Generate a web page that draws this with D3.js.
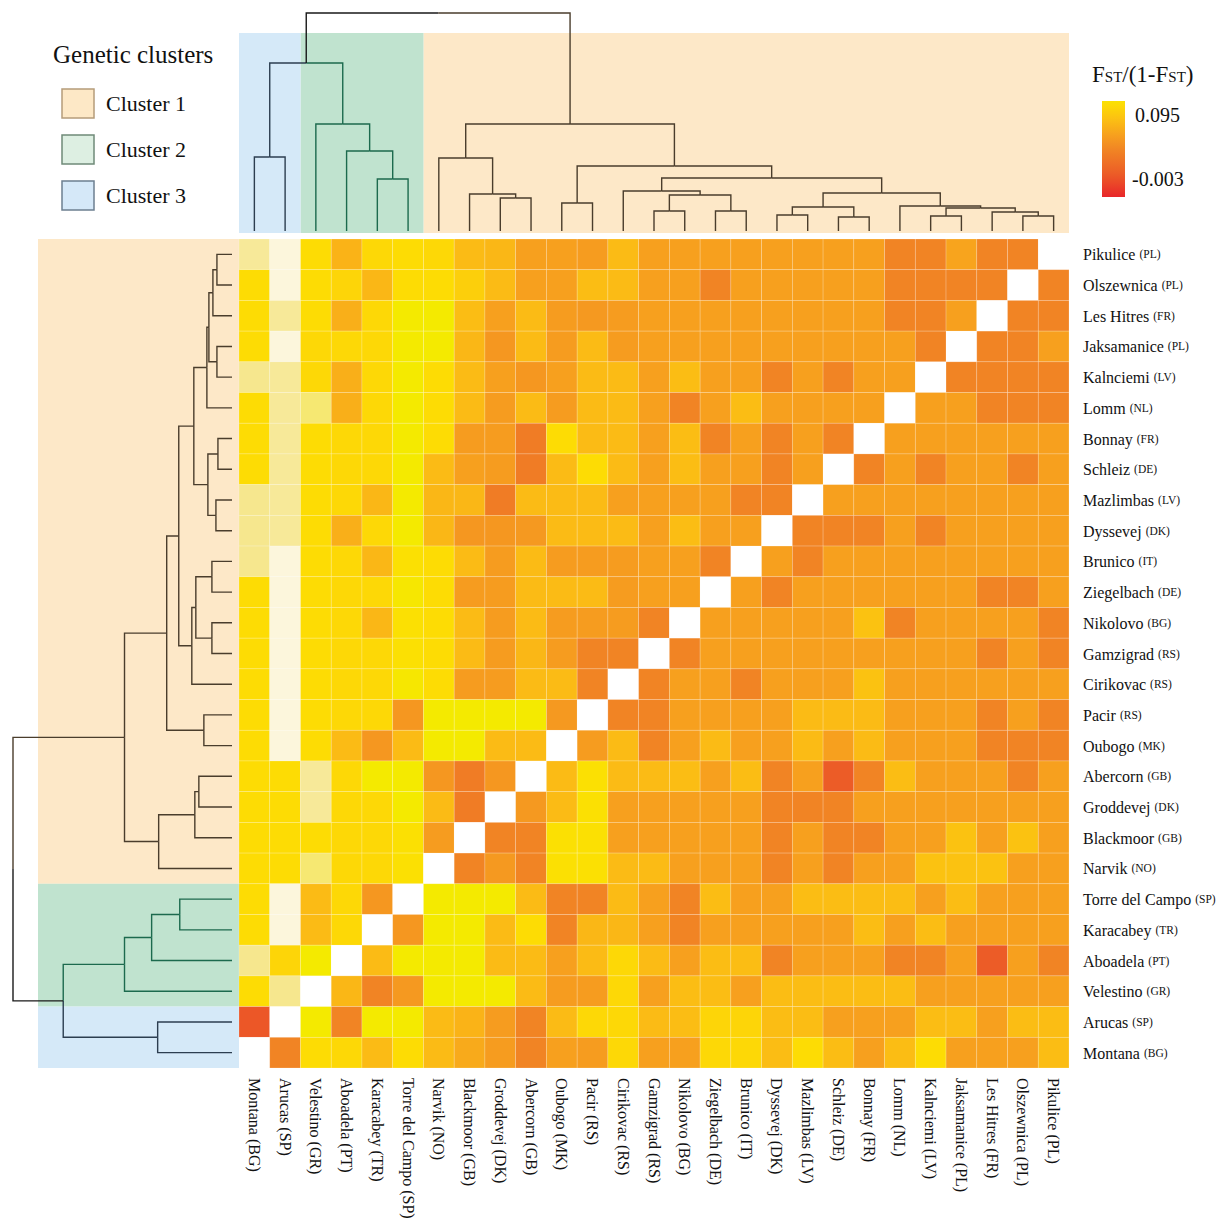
<!DOCTYPE html>
<html><head><meta charset="utf-8">
<script src="https://cdn.jsdelivr.net/npm/d3@7"></script>
<style>body{margin:0;background:#fff}text{font-family:"Liberation Serif","Times New Roman",serif;fill:#111}</style>
</head><body>
<svg id="chart" width="1231" height="1218"></svg>
<script>
// Column order (left -> right); rows are the reverse order (top -> bottom)
const populations = ["Montana","Arucas","Velestino","Aboadela","Karacabey","Torre del Campo","Narvik","Blackmoor","Groddevej","Abercorn","Oubogo","Pacir","Cirikovac","Gamzigrad","Nikolovo","Ziegelbach","Brunico","Dyssevej","Mazlimbas","Schleiz","Bonnay","Lomm","Kalnciemi","Jaksamanice","Les Hitres","Olszewnica","Pikulice"];
const countries = ["BG","SP","GR","PT","TR","SP","NO","GB","DK","GB","MK","RS","RS","RS","BG","DE","IT","DK","LV","DE","FR","NL","LV","PL","FR","PL","PL"];
const clusterOf = [3,3,2,2,2,2,1,1,1,1,1,1,1,1,1,1,1,1,1,1,1,1,1,1,1,1,1];
const clusterNames = ["Cluster 1","Cluster 2","Cluster 3"];
const colorbarTicks = [0.095, -0.003];

// FST/(1-FST) matrix, rows top->bottom (Pikulice ... Montana), columns left->right (Montana ... Pikulice)
const fst = [
 [0.13,0.16,0.092,0.07,0.09,0.092,0.09,0.074,0.072,0.06,0.06,0.058,0.074,0.06,0.06,0.06,0.06,0.06,0.06,0.06,0.06,0.045,0.045,0.062,0.045,0.045,null],
 [0.092,0.16,0.092,0.088,0.072,0.092,0.092,0.085,0.074,0.06,0.06,0.075,0.074,0.06,0.06,0.045,0.06,0.06,0.06,0.06,0.06,0.045,0.045,0.045,0.045,null,0.045],
 [0.092,0.13,0.092,0.068,0.09,0.1,0.1,0.075,0.06,0.074,0.058,0.056,0.058,0.06,0.06,0.06,0.06,0.06,0.06,0.06,0.06,0.045,0.045,0.06,null,0.045,0.045],
 [0.092,0.16,0.09,0.09,0.09,0.1,0.1,0.072,0.055,0.074,0.058,0.074,0.058,0.06,0.06,0.06,0.06,0.06,0.06,0.06,0.06,0.06,0.045,null,0.045,0.045,0.06],
 [0.125,0.13,0.09,0.068,0.09,0.1,0.092,0.074,0.06,0.055,0.06,0.074,0.074,0.06,0.075,0.06,0.06,0.045,0.06,0.045,0.06,0.06,null,0.045,0.045,0.045,0.045],
 [0.092,0.13,0.12,0.068,0.09,0.1,0.092,0.074,0.058,0.074,0.058,0.074,0.074,0.06,0.045,0.06,0.075,0.06,0.06,0.06,0.06,null,0.06,0.06,0.045,0.045,0.045],
 [0.092,0.13,0.092,0.09,0.09,0.1,0.092,0.058,0.058,0.04,0.092,0.074,0.074,0.06,0.075,0.045,0.06,0.045,0.06,0.045,null,0.06,0.06,0.06,0.06,0.06,0.06],
 [0.092,0.13,0.092,0.09,0.09,0.1,0.074,0.06,0.058,0.04,0.074,0.092,0.074,0.06,0.075,0.06,0.06,0.045,0.06,null,0.045,0.06,0.045,0.06,0.06,0.045,0.06],
 [0.125,0.13,0.092,0.09,0.072,0.1,0.072,0.072,0.04,0.074,0.074,0.074,0.06,0.06,0.06,0.06,0.045,0.045,null,0.06,0.06,0.06,0.06,0.06,0.06,0.06,0.06],
 [0.125,0.13,0.092,0.068,0.09,0.1,0.072,0.055,0.055,0.056,0.074,0.074,0.074,0.06,0.075,0.06,0.06,null,0.045,0.045,0.045,0.06,0.045,0.06,0.06,0.06,0.06],
 [0.125,0.16,0.092,0.09,0.072,0.094,0.092,0.074,0.058,0.074,0.058,0.058,0.058,0.06,0.06,0.045,null,0.06,0.045,0.06,0.06,0.06,0.06,0.06,0.06,0.06,0.06],
 [0.092,0.16,0.092,0.09,0.09,0.098,0.092,0.058,0.058,0.074,0.074,0.074,0.058,0.06,0.06,null,0.06,0.045,0.06,0.06,0.06,0.06,0.06,0.06,0.045,0.045,0.06],
 [0.092,0.16,0.092,0.09,0.072,0.094,0.092,0.074,0.058,0.074,0.058,0.058,0.058,0.045,null,0.06,0.06,0.06,0.06,0.06,0.078,0.045,0.06,0.06,0.06,0.06,0.045],
 [0.092,0.16,0.092,0.09,0.09,0.094,0.092,0.074,0.058,0.072,0.058,0.045,0.045,null,0.045,0.06,0.06,0.06,0.06,0.06,0.06,0.06,0.06,0.06,0.045,0.06,0.045],
 [0.092,0.16,0.092,0.09,0.09,0.098,0.092,0.058,0.058,0.074,0.074,0.045,null,0.045,0.06,0.06,0.045,0.06,0.06,0.06,0.078,0.06,0.06,0.06,0.06,0.06,0.06],
 [0.092,0.16,0.092,0.09,0.09,0.055,0.1,0.1,0.1,0.1,0.056,null,0.045,0.045,0.06,0.06,0.06,0.06,0.074,0.074,0.074,0.06,0.06,0.06,0.045,0.06,0.045],
 [0.092,0.16,0.092,0.074,0.055,0.074,0.1,0.1,0.074,0.074,null,0.058,0.074,0.045,0.06,0.074,0.06,0.06,0.074,0.06,0.074,0.06,0.06,0.06,0.045,0.045,0.045],
 [0.092,0.092,0.13,0.09,0.1,0.1,0.055,0.04,0.055,null,0.074,0.094,0.074,0.074,0.075,0.06,0.075,0.045,0.06,0.02,0.045,0.075,0.06,0.06,0.06,0.045,0.06],
 [0.092,0.092,0.13,0.09,0.09,0.1,0.074,0.04,null,0.056,0.074,0.094,0.06,0.06,0.06,0.06,0.06,0.045,0.045,0.045,0.06,0.06,0.06,0.06,0.06,0.06,0.06],
 [0.092,0.092,0.092,0.09,0.09,0.094,0.058,null,0.045,0.045,0.094,0.094,0.06,0.06,0.06,0.06,0.06,0.045,0.06,0.045,0.045,0.06,0.06,0.078,0.06,0.078,0.06],
 [0.092,0.092,0.12,0.09,0.09,0.094,null,0.045,0.056,0.045,0.094,0.094,0.074,0.074,0.06,0.06,0.06,0.045,0.06,0.045,0.06,0.06,0.078,0.078,0.078,0.06,0.06],
 [0.092,0.16,0.074,0.09,0.055,null,0.1,0.1,0.1,0.074,0.045,0.045,0.074,0.06,0.045,0.075,0.06,0.06,0.075,0.075,0.075,0.075,0.06,0.075,0.06,0.06,0.06],
 [0.092,0.16,0.074,0.09,null,0.055,0.1,0.1,0.074,0.092,0.045,0.072,0.072,0.06,0.045,0.06,0.06,0.06,0.06,0.06,0.075,0.06,0.075,0.06,0.06,0.06,0.06],
 [0.125,0.088,0.1,null,0.074,0.1,0.1,0.1,0.074,0.074,0.06,0.074,0.09,0.074,0.06,0.075,0.075,0.045,0.06,0.06,0.06,0.045,0.045,0.06,0.02,0.06,0.045],
 [0.092,0.125,null,0.072,0.045,0.056,0.1,0.1,0.1,0.074,0.058,0.058,0.09,0.06,0.075,0.075,0.06,0.075,0.075,0.075,0.075,0.075,0.06,0.06,0.06,0.06,0.06],
 [0.018,null,0.1,0.045,0.1,0.1,0.074,0.07,0.058,0.045,0.074,0.09,0.09,0.074,0.075,0.088,0.088,0.075,0.075,0.06,0.06,0.06,0.075,0.075,0.06,0.075,0.075],
 [null,0.045,0.092,0.09,0.074,0.092,0.074,0.065,0.058,0.045,0.06,0.058,0.09,0.06,0.06,0.09,0.09,0.075,0.092,0.075,0.06,0.075,0.092,0.06,0.06,0.06,0.075]
];

// Dendrogram linkage (leaf ids = column index, merged nodes get ids 27, 28, ...): [childA, childB, height]
const merges = [
 [0,1,74],[4,5,52],[3,28,80],[2,29,107],[27,30,168],
 [8,9,33],[7,32,37],[6,33,73],[10,11,28],[13,14,20],
 [15,16,20],[36,37,36],[12,38,40],[17,18,16],[19,20,14],
 [40,41,24],[25,26,15],[24,43,19],[22,23,15],[45,44,23],
 [21,46,25],[42,47,38],[39,48,53],[35,49,65],[34,50,107],[31,51,218]
];

const rowPopulations = populations.slice().reverse();
const rowCountries = countries.slice().reverse();

const svg = d3.select("#chart");
const x = d3.scaleBand().domain(populations).range([239,1069]);
const y = d3.scaleBand().domain(rowPopulations).range([239,1068]);
const color = d3.scaleLinear()
  .domain([-0.003,0.02,0.045,0.06,0.075,0.092,0.1,0.125,0.16])
  .range(["#e8262a","#ec5c27","#f18424","#f7a01e","#fbbd14","#fddc04","#f4ea00","#f6e78e","#fcf6dc"])
  .clamp(true);

const clusterFill = {1:"#fde8c8",2:"#c0e3cf",3:"#d5e9f8"};
const clusterSwatch = {1:"#fde8c6",2:"#ddefe2",3:"#d5e8f8"};
const clusterStroke = {1:"#b59c7a",2:"#6f8a78",3:"#6c7f90"};
const clusterLine = {0:"#1a1a1a",1:"#4a3d2c",2:"#1c6a4e",3:"#2c3e50"};

// cluster background bands
const clusters = [1,2,3].map(k=>{
  const members = populations.filter((p,i)=>clusterOf[i]===k);
  return {k, members};
});
const topBg = svg.append("g");
clusters.forEach(c=>{
  const xs = c.members.map(m=>x(m));
  topBg.append("rect").attr("x",d3.min(xs)).attr("y",33)
    .attr("width",d3.max(xs)+x.bandwidth()-d3.min(xs)).attr("height",200)
    .attr("fill",clusterFill[c.k]);
  const ys = c.members.map(m=>y(m));
  topBg.append("rect").attr("x",38).attr("y",d3.min(ys))
    .attr("width",202).attr("height",d3.max(ys)+y.bandwidth()-d3.min(ys))
    .attr("fill",clusterFill[c.k]);
});

// heatmap
const heat = svg.append("g");
fst.forEach((row,ri)=>{
  row.forEach((v,ci)=>{
    heat.append("rect")
      .attr("x",x(populations[ci])).attr("y",y(rowPopulations[ri]))
      .attr("width",x.bandwidth()).attr("height",y.bandwidth())
      .attr("fill",v===null?"#ffffff":color(v))
      .attr("stroke",v===null?"none":"rgba(255,255,255,0.28)").attr("stroke-width",0.7);
  });
});

// dendrograms
function buildNodes(leafPos){
  const pos = leafPos.slice(), h = populations.map(()=>0), cl = clusterOf.slice();
  merges.forEach((m,k)=>{
    const id = populations.length + k;
    pos[id] = (pos[m[0]]+pos[m[1]])/2; h[id] = m[2];
    cl[id] = cl[m[0]]===cl[m[1]] ? cl[m[0]] : 0;
  });
  return {pos,h,cl};
}
const hTop = d3.scaleLinear().domain([0,218]).range([231,13]);
const hLeft = d3.scaleLinear().domain([0,218]).range([232,13]);
const topNodes = buildNodes(populations.map(p=>x(p)+x.bandwidth()/2));
const leftNodes = buildNodes(populations.map(p=>y(p)+y.bandwidth()/2));
const dg = svg.append("g").attr("fill","none").attr("stroke-width",1.4);
merges.forEach((m,k)=>{
  const id = populations.length + k;
  [m[0],m[1]].forEach(c=>{
    const col = clusterLine[topNodes.cl[c]];
    dg.append("path").attr("stroke",col)
      .attr("d",`M${topNodes.pos[c]},${hTop(topNodes.h[c])}V${hTop(topNodes.h[id])}H${topNodes.pos[id]}`);
    dg.append("path").attr("stroke",col)
      .attr("d",`M${hLeft(leftNodes.h[c])},${leftNodes.pos[c]}H${hLeft(leftNodes.h[id])}V${leftNodes.pos[id]}`);
  });
});

// row labels
const rl = svg.append("g");
rowPopulations.forEach((p,i)=>{
  const t = rl.append("text").attr("x",1083).attr("y",y(p)+y.bandwidth()/2)
    .attr("dominant-baseline","central").attr("font-size",16);
  t.append("tspan").text(p+" ");
  t.append("tspan").attr("font-size",11.5).text("("+rowCountries[i]+")");
});
// column labels
const cl = svg.append("g");
populations.forEach((p,i)=>{
  cl.append("text").attr("transform",`translate(${x(p)+x.bandwidth()/2},1078) rotate(90)`)
    .attr("dominant-baseline","central").attr("font-size",16)
    .text(p+" ("+countries[i]+")");
});

// legend
const lg = svg.append("g");
lg.append("text").attr("x",53).attr("y",63).attr("font-size",25).text("Genetic clusters");
clusterNames.forEach((n,i)=>{
  const k=i+1, yy = 89 + i*46;
  lg.append("rect").attr("x",62).attr("y",yy).attr("width",32).attr("height",29)
    .attr("fill",clusterSwatch[k]).attr("stroke",clusterStroke[k]).attr("stroke-width",1.5);
  lg.append("text").attr("x",106).attr("y",yy+22).attr("font-size",22).text(n);
});

// colorbar
const defs = svg.append("defs");
const grad = defs.append("linearGradient").attr("id","cbar").attr("x1",0).attr("y1",0).attr("x2",0).attr("y2",1);
const cbScale = d3.scaleLinear().domain([0,1]).range([colorbarTicks[0],colorbarTicks[1]]);
d3.range(0,1.0001,0.05).forEach(t=>{
  grad.append("stop").attr("offset",t).attr("stop-color",color(cbScale(t)));
});
svg.append("rect").attr("x",1102).attr("y",101).attr("width",23).attr("height",96).attr("fill","url(#cbar)");
const cbY = d3.scaleLinear().domain(colorbarTicks).range([115,179]);
colorbarTicks.forEach(v=>{
  svg.append("text").attr("x",v<0?1132:1135).attr("y",cbY(v)).attr("dominant-baseline","central")
    .attr("font-size",20).text(d3.format(".3f")(v).replace("−","-"));
});
const title = svg.append("text").attr("x",1092).attr("y",82).attr("font-size",23);
title.append("tspan").text("F");
title.append("tspan").attr("font-size",15).text("ST");
title.append("tspan").text("/(1-F");
title.append("tspan").attr("font-size",15).text("ST");
title.append("tspan").text(")");
</script>
</body></html>
